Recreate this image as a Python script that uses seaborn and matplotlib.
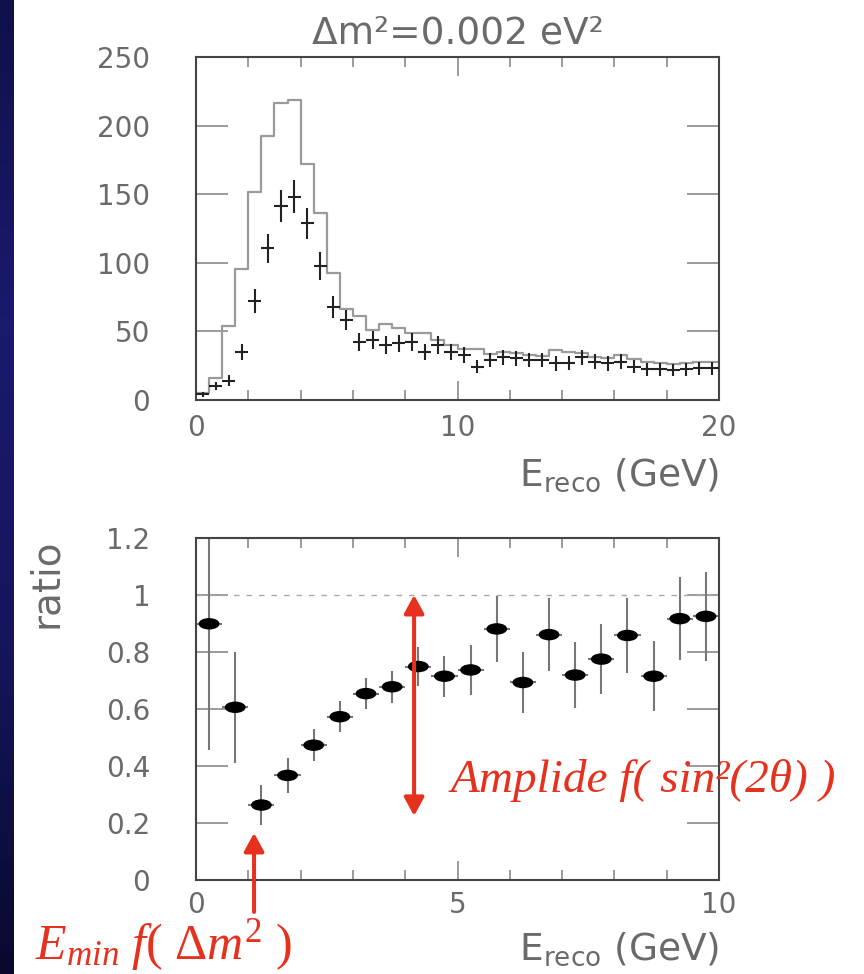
import numpy as np
import pandas as pd
import matplotlib
matplotlib.use("Agg")
import matplotlib.pyplot as plt
import seaborn as sns
from matplotlib.path import Path
from matplotlib.transforms import Affine2D
from matplotlib.patches import ArrowStyle
from matplotlib.ticker import FixedLocator, MultipleLocator
from matplotlib.colors import LinearSegmentedColormap

# ---------------- data ----------------
top_bin_edges = [round(0.5 * i, 2) for i in range(41)]
mc_counts = [4.9, 16.3, 54.2, 95.5, 151.8, 192.7, 216.2, 218.6, 172.0, 136.2,
             92.3, 66.1, 61.2, 51.0, 55.4, 52.2, 49.0, 49.0, 43.7, 40.1,
             36.9, 36.9, 33.3, 35.2, 34.0, 32.8, 32.1, 36.4, 35.2, 34.0,
             31.6, 30.4, 32.8, 29.6, 27.9, 27.2, 26.2, 26.7, 27.5, 27.9]
data_counts = [4.1, 10.2, 14.1, 34.8, 72.2, 110.6, 141.4, 148.2, 128.8, 97.7,
               67.8, 58.3, 42.0, 43.7, 40.1, 41.3, 42.0, 35.2, 40.1, 35.2,
               33.0, 24.3, 29.2, 31.1, 30.4, 29.2, 29.2, 26.7, 27.2, 31.1,
               27.9, 26.7, 27.9, 24.3, 22.4, 22.4, 21.9, 22.4, 23.1, 23.1]
data_err = [2.0, 3.2, 3.8, 5.9, 8.5, 10.5, 11.9, 12.2, 11.3, 9.9,
            8.2, 7.6, 6.5, 6.6, 6.3, 6.4, 6.5, 5.9, 6.3, 5.9,
            5.7, 4.9, 5.4, 5.6, 5.5, 5.4, 5.4, 5.2, 5.2, 5.6,
            5.3, 5.2, 5.3, 4.9, 4.7, 4.7, 4.7, 4.7, 4.8, 4.8]

ratio_bin_edges = [round(0.5 * i, 2) for i in range(21)]
ratio_vals = [0.899, 0.606, 0.263, 0.367, 0.473, 0.573, 0.654, 0.678, 0.749, 0.715,
              0.737, 0.881, 0.693, 0.861, 0.719, 0.775, 0.858, 0.715, 0.917, 0.925]
ratio_err = [0.443, 0.194, 0.070, 0.062, 0.056, 0.055, 0.055, 0.057, 0.067, 0.072,
             0.089, 0.116, 0.107, 0.129, 0.116, 0.122, 0.132, 0.123, 0.146, 0.157]

top_yticks = [0, 50, 100, 150, 200, 250]
top_xticks = [0, 10, 20]
bot_yticks = [0, 0.2, 0.4, 0.6, 0.8, 1.0, 1.2]
bot_yticklabels = ["0", "0.2", "0.4", "0.6", "0.8", "1", "1.2"]
bot_xticks = [0, 5, 10]

title_text = "Δm²=0.002 eV²"
xlabel_text = r"E$_{\mathregular{reco}}$ (GeV)"
ylabel_text = "ratio"
amp_text = "Amplide f( sin²(2θ) )"
emin_text = r"$E_{min}\ f(\ \mathit{\Delta} m^2\ )$"

# ---------------- style ----------------
sns.set_style("ticks")
plt.rcParams["font.family"] = ["DejaVu Sans"]
plt.rcParams["mathtext.it"] = "Liberation Serif:italic"
plt.rcParams["mathtext.rm"] = "Liberation Serif"
plt.rcParams["mathtext.bf"] = "Liberation Serif:bold"
GREY_TXT = "#6a6a6a"
TICK_C = "#8a8a8a"
SPINE_C = "#444444"
RED = "#E5311E"

fig = plt.figure(figsize=(8.64, 9.74), dpi=100)
fig.patch.set_facecolor("white")

# dark left strip
strip = fig.add_axes([0, 0, 14 / 864, 1])
grad = np.linspace(0, 1, 256).reshape(-1, 1)
cmap = LinearSegmentedColormap.from_list("strip", ["#10104a", "#1a1a6e", "#15155c", "#09092e"])
strip.imshow(grad, aspect="auto", cmap=cmap, extent=[0, 1, 0, 1], origin="upper")
strip.set_axis_off()

ax1 = fig.add_axes([196 / 864, 1 - 400 / 974, 523 / 864, 343 / 974])
ax2 = fig.add_axes([196 / 864, 1 - 880 / 974, 523 / 864, 342 / 974])

# ---------------- top panel ----------------
top_centers = [0.5 * (a + b) for a, b in zip(top_bin_edges[:-1], top_bin_edges[1:])]
df_mc = pd.DataFrame({"E": top_centers, "w": mc_counts})
sns.histplot(data=df_mc, x="E", weights="w", bins=top_bin_edges, element="step",
             fill=False, color="#9a9a9a", linewidth=1.6, ax=ax1)
ax1.errorbar(top_centers, data_counts, yerr=data_err, xerr=0.25, fmt="none",
             ecolor="#222222", elinewidth=1.5, capsize=0, zorder=3)
ax1.set_xlim(0, 20)
ax1.set_ylim(0, 250)
ax1.set_ylabel("")
ax1.xaxis.set_major_locator(FixedLocator(top_xticks))
ax1.xaxis.set_minor_locator(MultipleLocator(2))
ax1.yaxis.set_major_locator(FixedLocator(top_yticks))
ax1.set_title(title_text, fontsize=27, color=GREY_TXT, pad=10)
ax1.set_xlabel(xlabel_text, fontsize=27, color=GREY_TXT, loc="right")
ax1.xaxis.set_label_coords(1.0, -0.165)

# ---------------- bottom panel ----------------
bot_centers = [0.5 * (a + b) for a, b in zip(ratio_bin_edges[:-1], ratio_bin_edges[1:])]
ax2.axhline(1.0, color="#aaaaaa", lw=1.0, ls=(0, (4, 5)), zorder=1)
ax2.errorbar(bot_centers, ratio_vals, yerr=ratio_err, xerr=0.25, fmt="none",
             ecolor="#777777", elinewidth=1.5, capsize=0, zorder=2)
ellipse = Path.unit_circle().transformed(Affine2D().scale(1.0, 0.55))
df_ratio = pd.DataFrame({"E": bot_centers, "ratio": ratio_vals})
sns.scatterplot(data=df_ratio, x="E", y="ratio", marker=ellipse, s=225,
                color="black", edgecolor="none", linewidth=0, ax=ax2, zorder=4)
ax2.set_xlim(0, 10)
ax2.set_ylim(0, 1.2)
ax2.xaxis.set_major_locator(FixedLocator(bot_xticks))
ax2.xaxis.set_minor_locator(MultipleLocator(1))
ax2.set_yticks(bot_yticks, bot_yticklabels)
ax2.set_xlabel(xlabel_text, fontsize=27, color=GREY_TXT, loc="right")
ax2.xaxis.set_label_coords(1.0, -0.148)
ax2.set_ylabel(ylabel_text, fontsize=28, color=GREY_TXT, loc="top")
ax2.yaxis.set_label_coords(-0.25, 1.0)

for ax in (ax1, ax2):
    for sp in ax.spines.values():
        sp.set_visible(True)
        sp.set_color(SPINE_C)
        sp.set_linewidth(1.5)
    ax.tick_params(axis="x", which="major", direction="in", length=14, width=1.2,
                   color=TICK_C, top=True, bottom=True, labelsize=20,
                   labelcolor=GREY_TXT, pad=10)
    ax.tick_params(axis="x", which="minor", direction="in", length=7, width=1.2,
                   color=TICK_C, top=True, bottom=True)
    ax.tick_params(axis="y", which="major", direction="in", length=23, width=1.2,
                   color=TICK_C, left=True, right=True, labelsize=20,
                   labelcolor=GREY_TXT, pad=33)
    ax.tick_params(axis="y", which="minor", left=False, right=False)
ax2.tick_params(axis="x", which="major", pad=8)

# ---------------- annotations ----------------
dbl = ArrowStyle("<|-|>", head_length=11, head_width=6)
ax2.annotate("", xy=(4.17, 0.225), xytext=(4.17, 1.0),
             arrowprops=dict(arrowstyle=dbl, mutation_scale=1, lw=2.9,
                             color=RED, shrinkA=0, shrinkB=0), zorder=5)
sgl = ArrowStyle("-|>", head_length=11, head_width=6)
ax2.annotate("", xy=(1.11, 0.165), xytext=(1.11, -0.112),
             arrowprops=dict(arrowstyle=sgl, mutation_scale=1, lw=2.9,
                             color=RED, shrinkA=0, shrinkB=0),
             annotation_clip=False, zorder=5)
ax2.text(0.486, 0.257, amp_text, transform=ax2.transAxes, family="Liberation Serif",
         style="italic", fontsize=34, color=RED, ha="left", va="baseline")
fig.text(35 / 864, 1 - 959 / 974, emin_text, math_fontfamily="custom",
         fontsize=36, color=RED, ha="left", va="baseline")

fig.savefig("out.png", dpi=100)
